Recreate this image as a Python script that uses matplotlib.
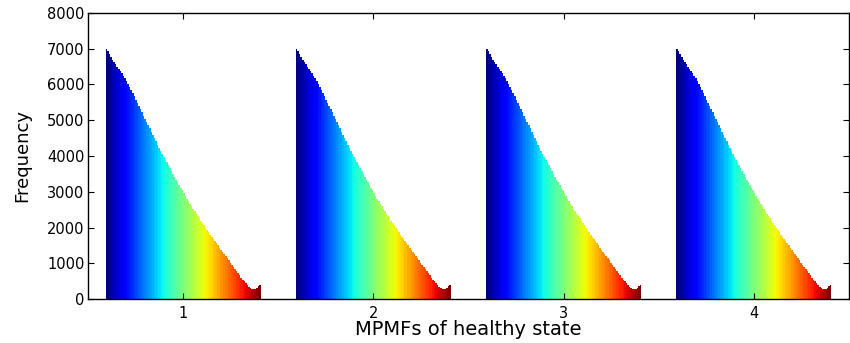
import matplotlib
matplotlib.use("Agg")
import matplotlib.pyplot as plt
import numpy as np

plt.rcParams['font.family'] = ['DejaVu Sans']

groups = [1, 2, 3, 4]
group_labels = ['1', '2', '3', '4']

# Frequency per bin (same profile read for each MPMF group)
freq_profile = [7000, 6950, 6850, 6760, 6680, 6620, 6560, 6500, 6440, 6380,
                6310, 6240, 6170, 6090, 6010, 5930, 5850, 5760, 5670, 5580,
                5490, 5400, 5310, 5220, 5130, 5040, 4950, 4860, 4770, 4680,
                4590, 4500, 4410, 4320, 4230, 4140, 4060, 3980, 3900, 3820,
                3740, 3660, 3580, 3500, 3420, 3340, 3260, 3185, 3110, 3035,
                2960, 2885, 2810, 2740, 2670, 2600, 2530, 2460, 2390, 2320,
                2255, 2190, 2125, 2060, 1995, 1930, 1865, 1800, 1740, 1680,
                1620, 1560, 1500, 1440, 1380, 1320, 1260, 1200, 1140, 1080,
                1020, 960, 900, 840, 780, 720, 660, 600, 545, 490,
                440, 390, 345, 305, 280, 275, 290, 320, 370, 400]
freq_by_group = [freq_profile, freq_profile, freq_profile, freq_profile]

yticks = [0, 1000, 2000, 3000, 4000, 5000, 6000, 7000, 8000]

fig = plt.figure(figsize=(8.5, 3.43), dpi=100)
ax = fig.add_axes([88/850, 44/343, (849-88)/850, (330-44)/343])

nb = len(freq_profile)
group_width = 0.815
bw = group_width / nb
cmap = plt.get_cmap('jet')
for gi, g in enumerate(groups):
    vals = freq_by_group[gi]
    for j in range(nb):
        x = g - group_width/2 + (j + 0.5) * bw
        ax.bar(x, vals[j], width=bw, color=cmap(j/(nb-1)), linewidth=0)

ax.set_xlim(0.5, 4.5)
ax.set_ylim(0, 8000)
ax.set_xticks(groups)
ax.set_xticklabels(group_labels)
ax.set_yticks(yticks)
ax.set_yticklabels([str(v) for v in yticks])
ax.tick_params(direction='in', length=4, width=0.8, labelsize=10.5,
               top=True, right=True, colors='black')
ax.tick_params(axis='y', pad=2.5)
ax.tick_params(axis='x', pad=5)
for s in ax.spines.values():
    s.set_linewidth(1.0)
ax.set_ylabel('Frequency', fontsize=13, labelpad=11)
ax.set_xlabel('MPMFs of healthy state', fontsize=14, labelpad=-1)

fig.savefig('out.png', dpi=100)
